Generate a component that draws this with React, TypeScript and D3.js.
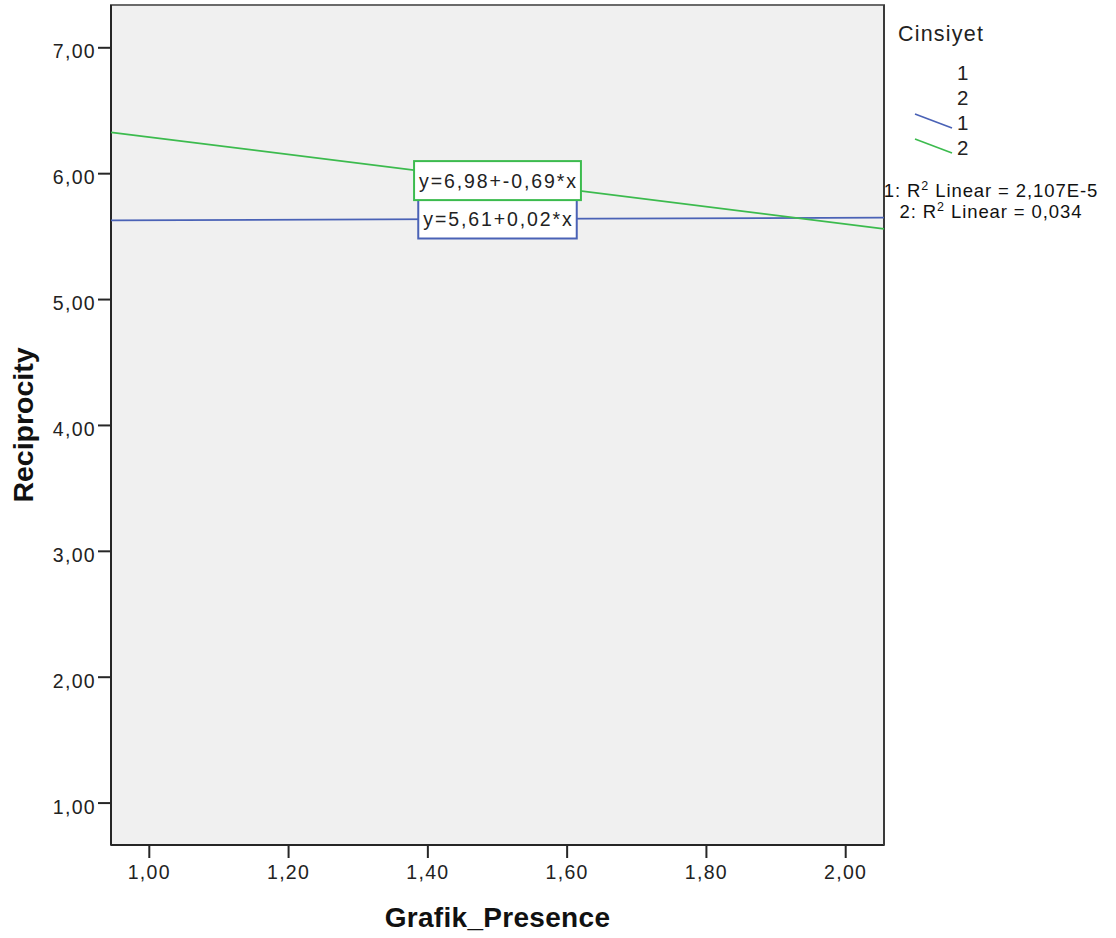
import React, { useRef, useEffect } from "react";
import * as d3 from "d3";

// groups (Cinsiyet) and their fit lines
const groups = ["1", "2"];
const groupColors = ["#4a62b6", "#3cbb4e"];
const fitX = [0.945, 2.055];
const fitY = [
  [5.629, 5.651],
  [6.328, 5.562],
];
const equations = ["y=5,61+0,02*x", "y=6,98+-0,69*x"];
const r2Labels = [
  ["1: R", "2", " Linear = 2,107E-5"],
  ["2: R", "2", " Linear = 0,034"],
];
const xTicks = [1.0, 1.2, 1.4, 1.6, 1.8, 2.0];
const yTicks = [1, 2, 3, 4, 5, 6, 7];
const xDomain = [0.945, 2.055];
const yDomain = [0.667, 7.34];
const labelAtX = 1.5;

const FONT = "'Liberation Sans', Arial, sans-serif";

const App = () => {
  const ref = useRef(null);

  useEffect(() => {
    const W = 1116;
    const H = 938;
    const plot = { left: 111, right: 884, top: 5, bottom: 845 };

    d3.select(ref.current).select("svg").remove();

    const svg = d3
      .select(ref.current)
      .append("svg")
      .attr("width", W)
      .attr("height", H)
      .style("display", "block")
      .style("font-family", FONT);

    svg.append("rect").attr("width", W).attr("height", H).attr("fill", "#ffffff");

    const x = d3.scaleLinear().domain(xDomain).range([plot.left, plot.right]);
    const y = d3.scaleLinear().domain(yDomain).range([plot.bottom, plot.top]);
    const fmt = (v) => d3.format(".2f")(v).replace(".", ",");

    // plot background + frame
    svg
      .append("rect")
      .attr("x", plot.left)
      .attr("y", plot.top)
      .attr("width", plot.right - plot.left)
      .attr("height", plot.bottom - plot.top)
      .attr("fill", "#f0f0f0")
      .attr("stroke", "#6a6a6a")
      .attr("stroke-width", 2);

    // axes
    const axisColor = "#262626";
    svg
      .append("line")
      .attr("x1", plot.left)
      .attr("x2", plot.left)
      .attr("y1", plot.top)
      .attr("y2", plot.bottom)
      .attr("stroke", axisColor)
      .attr("stroke-width", 2);
    svg
      .append("line")
      .attr("x1", plot.left)
      .attr("x2", plot.right)
      .attr("y1", plot.bottom)
      .attr("y2", plot.bottom)
      .attr("stroke", axisColor)
      .attr("stroke-width", 2);
    svg
      .append("line")
      .attr("x1", plot.right)
      .attr("x2", plot.right)
      .attr("y1", plot.top)
      .attr("y2", plot.bottom)
      .attr("stroke", "#3a3a3a")
      .attr("stroke-width", 2);

    const yt = svg.append("g").selectAll("g").data(yTicks).enter().append("g");
    yt.append("line")
      .attr("x1", plot.left - 13)
      .attr("x2", plot.left)
      .attr("y1", (d) => y(d))
      .attr("y2", (d) => y(d))
      .attr("stroke", axisColor)
      .attr("stroke-width", 2);
    yt.append("text")
      .attr("x", plot.left - 15)
      .attr("y", (d) => y(d) + 10.5)
      .attr("text-anchor", "end")
      .attr("font-size", 19.5)
      .attr("letter-spacing", 1.3)
      .attr("fill", "#222")
      .text((d) => fmt(d));

    const xt = svg.append("g").selectAll("g").data(xTicks).enter().append("g");
    xt.append("line")
      .attr("x1", (d) => x(d))
      .attr("x2", (d) => x(d))
      .attr("y1", plot.bottom)
      .attr("y2", plot.bottom + 13)
      .attr("stroke", axisColor)
      .attr("stroke-width", 2);
    xt.append("text")
      .attr("x", (d) => x(d))
      .attr("y", plot.bottom + 34)
      .attr("text-anchor", "middle")
      .attr("font-size", 19.5)
      .attr("letter-spacing", 1.3)
      .attr("fill", "#222")
      .text((d) => fmt(d));

    // axis titles
    svg
      .append("text")
      .attr("x", (plot.left + plot.right) / 2)
      .attr("y", 926.5)
      .attr("text-anchor", "middle")
      .attr("font-size", 28)
      .attr("letter-spacing", 0.3)
      .attr("font-weight", "bold")
      .attr("fill", "#111")
      .text("Grafik_Presence");
    svg
      .append("text")
      .attr("transform", "translate(33,425) rotate(-90)")
      .attr("text-anchor", "middle")
      .attr("font-size", 28.5)
      .attr("font-weight", "bold")
      .attr("fill", "#111")
      .text("Reciprocity");

    // fit lines
    const line = d3
      .line()
      .x((d) => x(d[0]))
      .y((d) => y(d[1]));
    groups.forEach((g, i) => {
      svg
        .append("path")
        .datum(fitX.map((v, j) => [v, fitY[i][j]]))
        .attr("fill", "none")
        .attr("stroke", groupColors[i])
        .attr("stroke-width", 1.7)
        .attr("d", line);
    });

    // equation labels on the lines
    groups.forEach((g, i) => {
      const onLine = d3.scaleLinear().domain(fitX).range(fitY[i]);
      const cx = x(labelAtX);
      const cy = y(onLine(labelAtX));
      const lab = svg.append("g");
      const box = lab.append("rect");
      const t = lab
        .append("text")
        .attr("x", cx + 1)
        .attr("y", cy + 7)
        .attr("text-anchor", "middle")
        .attr("font-size", 19.5)
        .attr("letter-spacing", 1.9)
        .attr("fill", "#222")
        .text(equations[i]);
      const bb = t.node().getBBox();
      const bw = bb.width + 8;
      const bh = 39;
      box
        .attr("x", cx - bw / 2)
        .attr("y", cy - bh / 2)
        .attr("width", bw)
        .attr("height", bh)
        .attr("fill", "#ffffff")
        .attr("stroke", groupColors[i])
        .attr("stroke-width", 2);
    });

    // legend
    const lg = svg.append("g");
    lg.append("text")
      .attr("x", 898)
      .attr("y", 40.5)
      .attr("font-size", 21.5)
      .attr("letter-spacing", 1.2)
      .attr("fill", "#222")
      .text("Cinsiyet");
    const legendRows = [...groups, ...groups];
    legendRows.forEach((g, i) => {
      const by = 80 + i * 25;
      lg.append("text")
        .attr("x", 957)
        .attr("y", by)
        .attr("font-size", 20.5)
        .attr("fill", "#222")
        .text(g);
      if (i >= groups.length) {
        lg.append("line")
          .attr("x1", 915)
          .attr("y1", by - 16)
          .attr("x2", 952)
          .attr("y2", by - 2)
          .attr("stroke", groupColors[i - groups.length])
          .attr("stroke-width", 1.6);
      }
    });

    r2Labels.forEach((parts, i) => {
      const t = lg
        .append("text")
        .attr("x", 991)
        .attr("y", 196.5 + i * 21.5)
        .attr("text-anchor", "middle")
        .attr("font-size", 18.5)
        .attr("letter-spacing", 0.9)
        .attr("fill", "#111");
      t.append("tspan").text(parts[0]);
      t.append("tspan").attr("font-size", 12.5).attr("dy", -7).text(parts[1]);
      t.append("tspan").attr("dy", 7).text(parts[2]);
    });
  }, []);

  return <div ref={ref} style={{ position: "absolute", left: 0, top: 0 }}></div>;
};

export default App;
